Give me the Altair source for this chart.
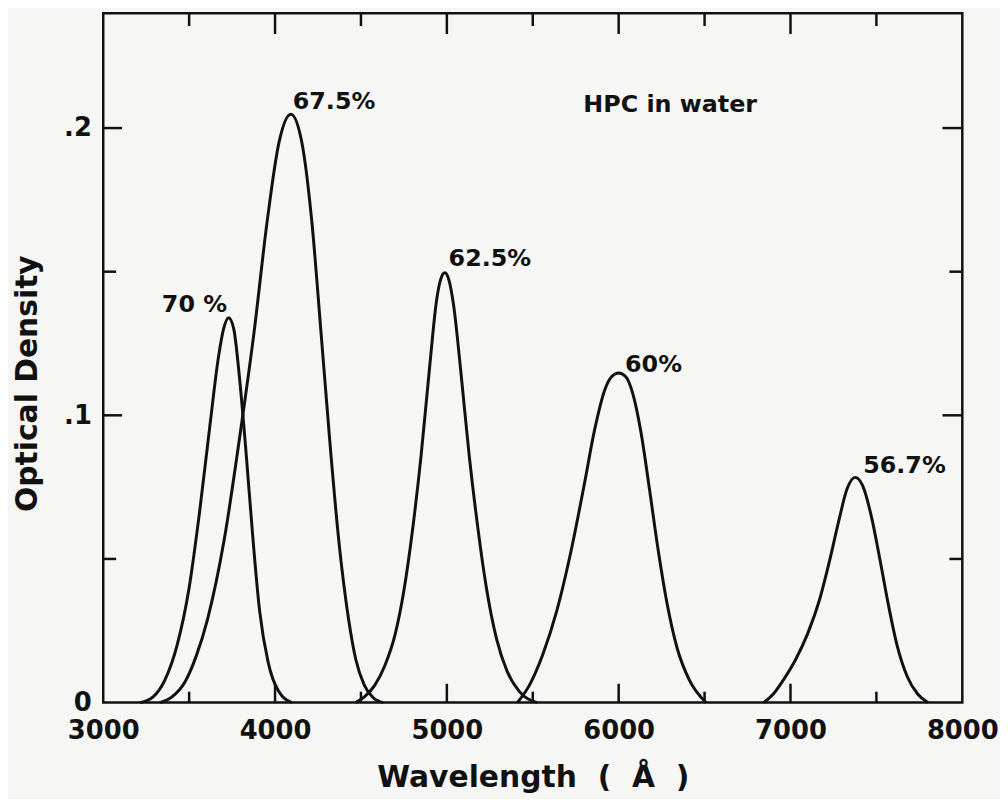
import altair as alt
import pandas as pd

# ---- data (wavelength in Å, optical density) ----
wl_70 = [3214, 3290, 3360, 3430, 3500, 3560, 3620, 3670, 3700, 3730, 3760, 3790, 3830, 3870, 3910, 3960, 4020, 4098]
od_70 = [0.0, 0.002, 0.008, 0.020, 0.040, 0.066, 0.096, 0.120, 0.130, 0.134, 0.130, 0.115, 0.088, 0.058, 0.032, 0.014, 0.004, 0.0]

wl_675 = [3329, 3400, 3474, 3540, 3607, 3705, 3792, 3879, 3954, 4023, 4092, 4156, 4214, 4266, 4318, 4370, 4428, 4470, 4520, 4572, 4630]
od_675 = [0.0, 0.002, 0.007, 0.016, 0.029, 0.057, 0.0915, 0.1295, 0.1675, 0.195, 0.2048, 0.195, 0.1675, 0.130, 0.0915, 0.057, 0.029, 0.015, 0.006, 0.0017, 0.0]

wl_625 = [4468, 4520, 4580, 4640, 4700, 4750, 4800, 4850, 4900, 4940, 4965, 4988, 5010, 5040, 5080, 5130, 5180, 5230, 5290, 5350, 5420, 5526]
od_625 = [0.0, 0.002, 0.006, 0.013, 0.024, 0.039, 0.060, 0.086, 0.117, 0.140, 0.1475, 0.1496, 0.1475, 0.138, 0.116, 0.086, 0.061, 0.040, 0.022, 0.011, 0.004, 0.0]

wl_60 = [5410, 5480, 5560, 5640, 5720, 5800, 5860, 5920, 5960, 6000, 6040, 6080, 6130, 6180, 6230, 6280, 6340, 6410, 6509]
od_60 = [0.0, 0.006, 0.017, 0.032, 0.052, 0.076, 0.095, 0.109, 0.1135, 0.1147, 0.1135, 0.108, 0.094, 0.074, 0.053, 0.035, 0.019, 0.008, 0.0]

wl_567 = [6844, 6900, 6960, 7030, 7100, 7170, 7230, 7280, 7330, 7376, 7420, 7470, 7520, 7570, 7620, 7680, 7740, 7800]
od_567 = [0.0, 0.003, 0.008, 0.015, 0.024, 0.036, 0.050, 0.063, 0.0745, 0.0784, 0.0755, 0.065, 0.050, 0.034, 0.020, 0.009, 0.003, 0.0]

series_names = ["70 %", "67.5%", "62.5%", "60%", "56.7%"]
series_wl = [wl_70, wl_675, wl_625, wl_60, wl_567]
series_od = [od_70, od_675, od_625, od_60, od_567]

# annotation labels (data coordinates of the text's left baseline)
label_text = ["70 %", "67.5%", "62.5%", "60%", "56.7%", "HPC in water"]
label_wl = [3341, 4103, 5010, 6037, 7423, 5794]
label_od = [0.1358, 0.2066, 0.152, 0.115, 0.080, 0.2055]

# tick positions
x_major = [4000, 5000, 6000, 7000]
x_minor = [3500, 4500, 5500, 6500, 7500]
y_major = [0.1, 0.2]
y_minor = [0.05, 0.15]
x_labels = [3000, 4000, 5000, 6000, 7000, 8000]
y_labels = [0, 0.1, 0.2]

W, H = 866, 695
FONT = "DejaVu Sans"
INK = "#111111"
NB = "\u00a0"

rows = []
for name, wl, od in zip(series_names, series_wl, series_od):
    for i, (a, b) in enumerate(zip(wl, od)):
        rows.append({"series": name, "wl": a, "od": b, "order": i})
curves = pd.DataFrame(rows)

xs = alt.Scale(domain=[3000, 8000], nice=False, zero=False)
ys = alt.Scale(domain=[0, 0.24], nice=False)

base_x = alt.X("wl:Q", scale=xs,
               axis=alt.Axis(values=x_labels, format="d", ticks=False, domain=False, grid=False,
                             labelFont=FONT, labelFontSize=26, labelFontWeight="bold", labelColor=INK,
                             labelPadding=15, labelFlush=False,
                             title="Wavelength" + NB * 2 + "(" + NB * 2 + "Å" + NB * 2 + ")",
                             titleFont=FONT, titleFontSize=30, titleFontWeight="bold",
                             titleColor=INK, titleBaseline="alphabetic", titleY=85))
base_y = alt.Y("od:Q", scale=ys,
               axis=alt.Axis(values=y_labels, ticks=False, domain=False, grid=False,
                             labelExpr="datum.value == 0 ? '0' : replace(format(datum.value, '.1f'), '0.', '.')",
                             labelFont=FONT, labelFontSize=26, labelFontWeight="bold", labelColor=INK,
                             labelPadding=12, labelFlush=False,
                             title="Optical Density",
                             titleFont=FONT, titleFontSize=30, titleFontWeight="bold",
                             titleColor=INK, titleX=-61, titleY=373))

lines = alt.Chart(curves).mark_line(color=INK, strokeWidth=3, interpolate="monotone").encode(
    x=base_x, y=base_y, detail="series:N", order="order:Q")

labels_df = pd.DataFrame({"text": label_text, "wl": label_wl, "od": label_od})
labels = alt.Chart(labels_df).mark_text(align="left", baseline="alphabetic", font=FONT,
                                        fontSize=24, fontWeight="bold", color=INK).encode(
    x=alt.X("wl:Q", scale=xs), y=alt.Y("od:Q", scale=ys), text="text:N")

xmaj = pd.DataFrame({"wl": x_major})
xmin = pd.DataFrame({"wl": x_minor})
ymaj = pd.DataFrame({"od": y_major})
ymin = pd.DataFrame({"od": y_minor})

def xtick(df, y0, y1):
    return alt.Chart(df).mark_rule(color=INK, strokeWidth=2.5).encode(
        x=alt.X("wl:Q", scale=xs), y=alt.value(y0), y2=alt.value(y1))

def ytick(df, x0, x1):
    return alt.Chart(df).mark_rule(color=INK, strokeWidth=2.5).encode(
        y=alt.Y("od:Q", scale=ys), x=alt.value(x0), x2=alt.value(x1))

ticks = [
    xtick(xmaj, H, H - 19), xtick(xmin, H, H - 11),
    xtick(xmaj, 0, 21), xtick(xmin, 0, 13),
    ytick(ymaj, 0, 19), ytick(ymin, 0, 13),
    ytick(ymaj, W, W - 20), ytick(ymin, W, W - 13),
]

chart = alt.layer(lines, labels, *ticks).properties(
    width=W, height=H,
    autosize=alt.AutoSizeParams(type="none"),
    padding={"left": 96, "top": 2, "right": 1000 - 96 - W, "bottom": 791 - 2 - H},
    background="#f6f6f4",
).configure_view(stroke=INK, strokeWidth=2.5)

chart.save("out.html", embed_options={"renderer": "svg", "actions": False})
